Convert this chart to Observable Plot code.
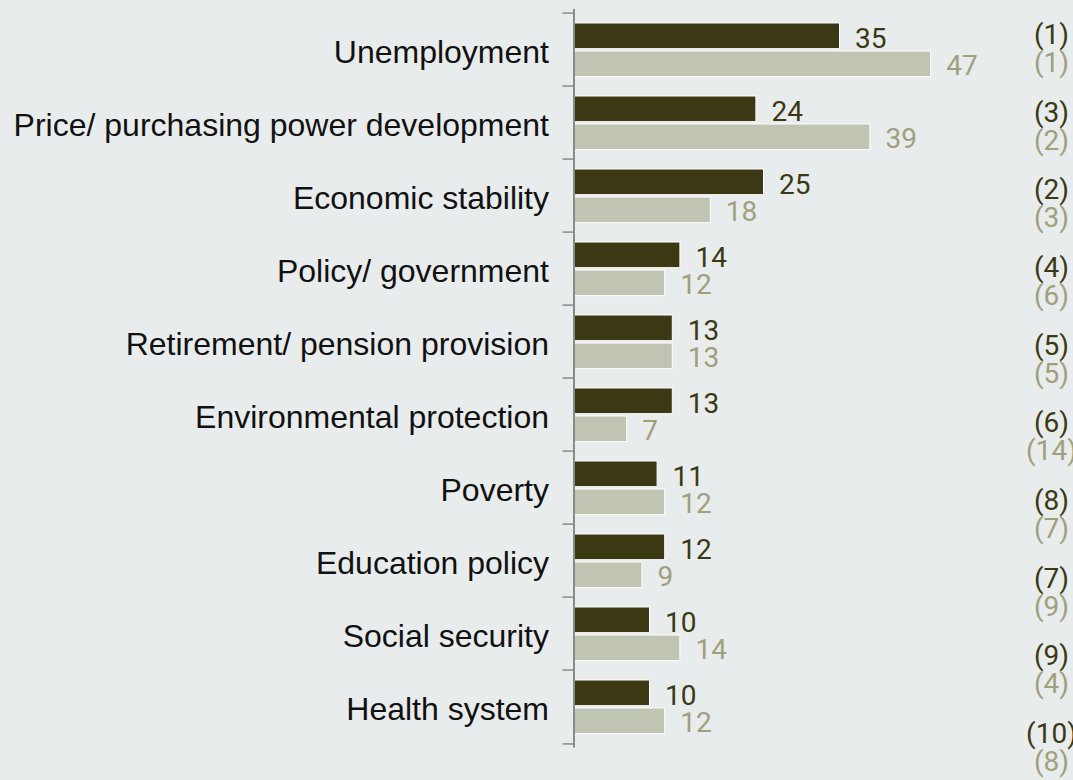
<!DOCTYPE html>
<html><head><meta charset="utf-8">
<script src="https://cdn.jsdelivr.net/npm/d3@7"></script>
<script src="https://cdn.jsdelivr.net/npm/@observablehq/plot@0.6"></script>
<style>html,body{margin:0;padding:0;background:#e9ecec;overflow:hidden}svg{display:block}</style>
</head><body><div id="chart"></div>
<script>
const categories = ["Unemployment", "Price/ purchasing power development", "Economic stability", "Policy/ government", "Retirement/ pension provision", "Environmental protection", "Poverty", "Education policy", "Social security", "Health system"];
const seriesA = [35, 24, 25, 14, 13, 13, 11, 12, 10, 10];
const seriesB = [47, 39, 18, 12, 13, 7, 12, 9, 14, 12];
const rankA = ["(1)", "(3)", "(2)", "(4)", "(5)", "(6)", "(8)", "(7)", "(9)", "(10)"];
const rankB = ["(1)", "(2)", "(3)", "(6)", "(5)", "(14)", "(7)", "(9)", "(4)", "(8)"];

const rows = categories.map((c, i) => ({cat: c, a: seriesA[i], b: seriesB[i], ra: rankA[i], rb: rankB[i]}));

const W = 1073, H = 780, mt = 9, mb = 32.5, ml = 573.5, mr = 22;
const bw = (H - mt - mb) / categories.length;
const pxPerUnit = 7.6;
const xMax = (W - ml - mr) / pxPerUnit;
const darkBar = "#3a3914", lightBar = "#c0c5b3";
const darkText = "#3a3914", lightText = "#9fa07c";
const axisGray = "#8a8a8a";
const stretch = 1.0638;

function stretchY(index, scales, values, dims, ctx, next) {
  const y = values.y;
  const y0 = Math.min(...Array.from(index, i => y[i]));
  const Y = Array.from(y, v => y0 + (v - y0) * stretch);
  return next(index, scales, {...values, y: Y}, dims, ctx);
}

const chart = Plot.plot({
  width: W, height: H,
  marginTop: mt, marginBottom: mb, marginLeft: ml, marginRight: mr,
  style: {background: "#e9ecec", overflow: "visible"},
  x: {domain: [0, xMax], axis: null},
  y: {domain: categories, padding: 0, axis: null, label: null},
  marks: [
    Plot.axisY({tickSize: 0, tickPadding: 25, fontSize: 32, fill: "#111", dy: 3, label: null, fontFamily: "Liberation Sans, Arial, sans-serif"}),
    Plot.barX(rows, {y: "cat", x: "a", fill: darkBar, stroke: "white", strokeWidth: 1, insetTop: 10, insetBottom: bw - 36.5}),
    Plot.barX(rows, {y: "cat", x: "b", fill: lightBar, stroke: "white", strokeWidth: 1, insetTop: 38, insetBottom: bw - 64.5}),
    Plot.ruleX([0], {stroke: axisGray, strokeWidth: 2}),
    Plot.ruleY(rows, {y: "cat", x1: -11 / pxPerUnit, x2: 0, dy: -bw / 2, stroke: axisGray, strokeWidth: 1.5}),
    Plot.ruleY(rows.slice(-1), {y: "cat", x1: -11 / pxPerUnit, x2: 0, dy: bw / 2, stroke: axisGray, strokeWidth: 1.5}),
    Plot.text(rows, {y: "cat", x: "a", text: d => String(d.a), dx: 15, dy: -11, textAnchor: "start", fill: darkText, fontSize: 28, fontFamily: "Roboto"}),
    Plot.text(rows, {y: "cat", x: "b", text: d => String(d.b), dx: 15, dy: 16, textAnchor: "start", fill: lightText, fontSize: 28, fontFamily: "Roboto"}),
    Plot.text(rows, {y: "cat", text: "ra", frameAnchor: "right", textAnchor: "middle", dy: -15, fill: darkText, fontSize: 28, fontFamily: "Roboto", render: stretchY}),
    Plot.text(rows, {y: "cat", text: "rb", frameAnchor: "right", textAnchor: "middle", dy: 13, fill: lightText, fontSize: 28, fontFamily: "Roboto", render: stretchY})
  ]
});
document.getElementById("chart").appendChild(chart);
</script>
</body></html>
